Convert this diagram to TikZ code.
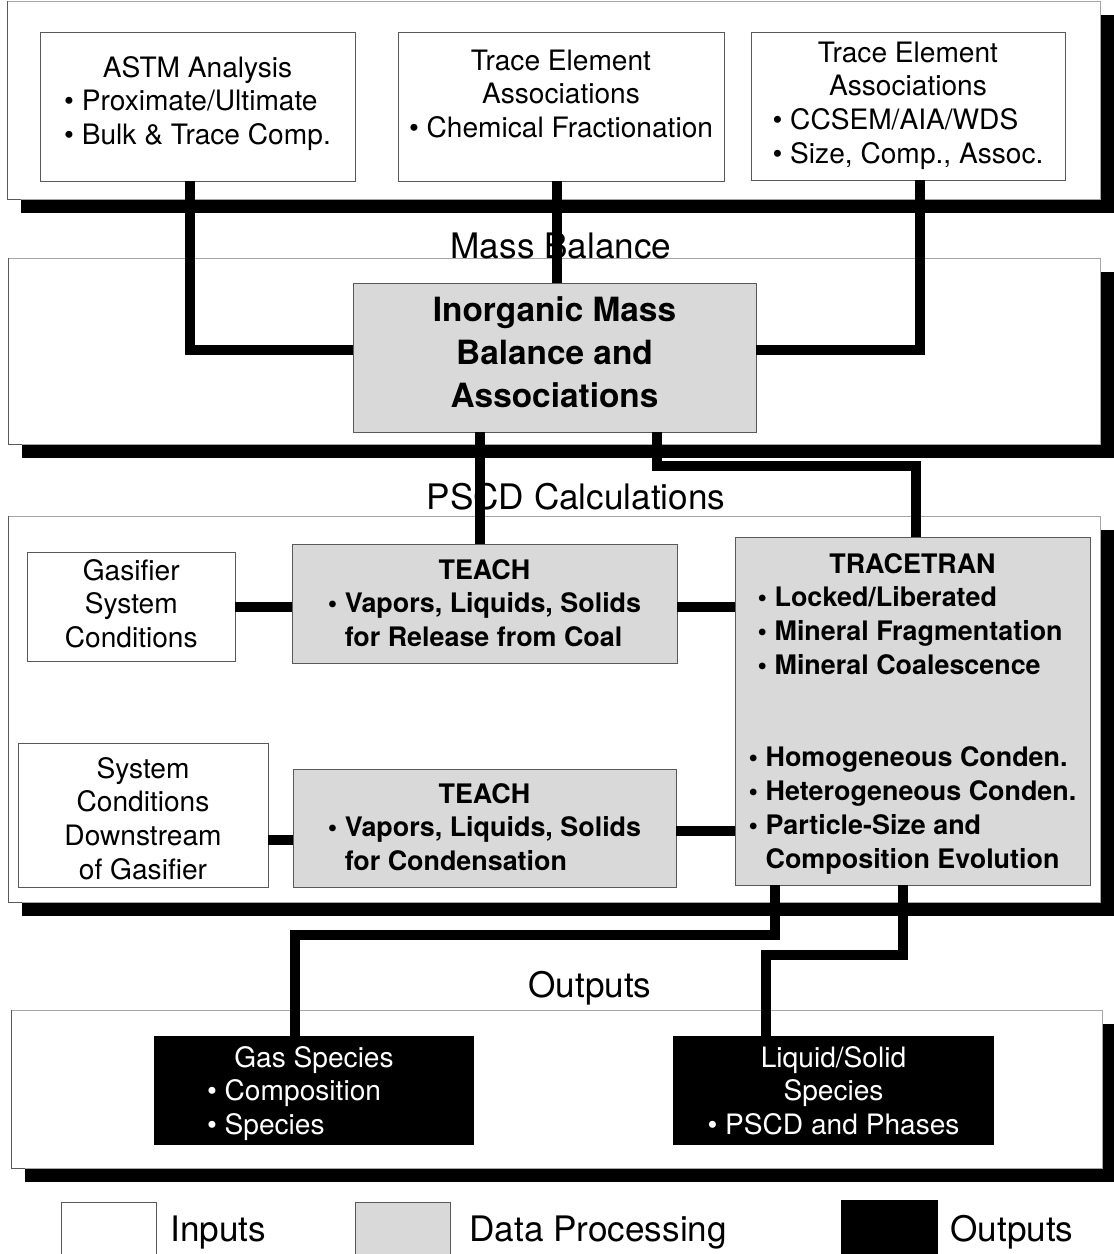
\documentclass[tikz,border=0pt]{standalone}
\usepackage{fontspec}
\setmainfont{TeX Gyre Heros}
\usepackage{tikz}
\usepackage{array}
\usetikzlibrary{calc}

\newcommand{\hd}[1]{\multicolumn{1}{@{}c@{}}{#1}}
\newcommand{\itm}{\textbullet\ }
\newcommand{\itmsp}{\phantom{\textbullet\ }}

\begin{document}
\begin{tikzpicture}[x=0.02cm, y=-0.02cm,
                thin/.style = {line width=0.5pt, draw=black!65},
                panel/.style = {line width=0.4pt, draw=black!35, fill=white},
                inbox/.style = {thin, fill=white, inner sep=0pt, font=\fontsize{16}{19.3}\selectfont},
                procbox/.style = {thin, fill=black!15, inner sep=0pt, font=\bfseries\fontsize{15.3}{19.3}\selectfont},
                outbox/.style = {fill=black, text=white, inner sep=0pt, font=\fontsize{16}{19.3}\selectfont},
                heading/.style = {anchor=base, inner sep=0pt, font=\fontsize{20}{24}\selectfont},
                legend/.style = {anchor=base west, inner sep=0pt, font=\fontsize{20}{24}\selectfont},
                link/.style = {line width=5.5pt, line cap=butt, line join=miter}]
                \useasboundingbox (0,0) rectangle (1114,1254);

                \fill (21,15) rectangle (1114,213);
                \draw[panel] (7,1) rectangle (1100,199);
                \draw[thin] (7,1) -- (7,199) -- (21,199);
                \fill (22,272) rectangle (1114,458);
                \draw[panel] (8,258) rectangle (1100,444);
                \draw[thin] (8,258) -- (8,444) -- (22,444);
                \fill (22,530) rectangle (1114,916);
                \draw[panel] (8,516) rectangle (1100,902);
                \draw[thin] (8,516) -- (8,902) -- (22,902);
                \fill (25,1024) rectangle (1116,1182);
                \draw[panel] (11,1010) rectangle (1102,1168);
                \draw[thin] (11,1010) -- (11,1168) -- (25,1168);

                \node[inbox, draw, minimum width=6.3cm, text height=0.9cm, text depth=2.08cm] (astm) at (197.5,106.5)
                    {\begin{tabular}[t]{@{}l@{}}\hd{ASTM Analysis}\\ \itm Proximate/Ultimate\\ \itm Bulk \& Trace Comp.\end{tabular}};
                \node[inbox, draw, minimum width=6.52cm, text height=0.76cm, text depth=2.22cm] (chem) at (561,106.5)
                    {\begin{tabular}[t]{@{}c@{}}Trace Element\\ Associations\\ \itm Chemical Fractionation\end{tabular}};
                \node[inbox, draw, minimum width=6.28cm, text height=0.6cm, text depth=2.36cm] (ccsem) at (908,106)
                    {\begin{tabular}[t]{@{}l@{}}\hd{Trace Element}\\ \hd{Associations}\\ \itm CCSEM/AIA/WDS\\ \itm Size, Comp., Assoc.\end{tabular}};

                \node[heading] (mass) at (561,258) {Mass Balance};
                \node[procbox, draw, minimum width=8.06cm, text height=0.76cm, text depth=2.22cm,
                    font=\bfseries\fontsize{19}{24.5}\selectfont] (inorg) at (554.5,357.5)
                    {\begin{tabular}[t]{@{}c@{}}Inorganic Mass\\ Balance and\\ Associations\end{tabular}};

                \node[heading] (pscd) at (576,509) {PSCD Calculations};
                \node[inbox, draw, minimum width=4.15cm, text height=0.56cm, text depth=1.62cm] (gasif) at (131.25,606.5)
                    {\begin{tabular}[t]{@{}c@{}}Gasifier\\ System\\ Conditions\end{tabular}};
                \node[procbox, draw, minimum width=7.7cm, text height=0.7cm, text depth=1.68cm] (teach1) at (484.5,603.5)
                    {\begin{tabular}[t]{@{}l@{}}\hd{TEACH}\\ \itm Vapors, Liquids, Solids\\ \itmsp for Release from Coal\end{tabular}};
                \node[inbox, draw, minimum width=5cm, text height=0.7cm, text depth=2.18cm] (downs) at (143,815)
                    {\begin{tabular}[t]{@{}c@{}}System\\ Conditions\\ Downstream\\ of Gasifier\end{tabular}};
                \node[procbox, draw, minimum width=7.66cm, text height=0.68cm, text depth=1.68cm] (teach2) at (484.5,828)
                    {\begin{tabular}[t]{@{}l@{}}\hd{TEACH}\\ \itm Vapors, Liquids, Solids\\ \itmsp for Condensation\end{tabular}};
                \node[procbox, draw, minimum width=7.1cm, text height=0.72cm, text depth=6.24cm] (tracetran) at (912.5,711)
                    {\begin{tabular}[t]{@{}l@{}}\hd{TRACETRAN}\\ \hspace*{0.18cm}\itm Locked/Liberated\\ \hspace*{0.18cm}\itm Mineral Fragmentation\\
                    \hspace*{0.18cm}\itm Mineral Coalescence\\[33pt] \itm Homogeneous Conden.\\ \itm Heterogeneous Conden.\\
                    \itm Particle-Size and\\ \itmsp Composition Evolution\end{tabular}};

                \node[heading] (outs) at (590,997) {Outputs};
                \node[outbox, minimum width=6.4cm, text height=0.62cm, text depth=1.56cm] (gas) at (314,1090.5)
                    {\begin{tabular}[t]{@{}l@{\hspace{0.8cm}}}\hd{Gas Species}\\ \itm Composition\\ \itm Species\end{tabular}};
                \node[outbox, minimum width=6.42cm, text height=0.62cm, text depth=1.56cm] (liq) at (833.5,1090.5)
                    {\begin{tabular}[t]{@{}l@{}}\hd{Liquid/Solid}\\ \hd{Species}\\ \itm PSCD and Phases\end{tabular}};

                \draw[link] (astm.south -| 190,0) |- (inorg.west |- 0,350);
                \draw[link] (chem.south -| 557,0) -- (inorg.north -| 557,0);
                \draw[link] (ccsem.south -| 920,0) |- (inorg.east |- 0,350);
                \draw[link] (inorg.south -| 480,0) -- (teach1.north -| 480,0);
                \draw[link] (inorg.south -| 657,0) |- (916,466) -- (tracetran.north -| 916,0);
                \draw[link] (gasif.east |- 0,607) -- (teach1.west |- 0,607);
                \draw[link] (teach1.east |- 0,607) -- (tracetran.west |- 0,607);
                \draw[link] (downs.east |- 0,840) -- (teach2.west |- 0,840);
                \draw[link] (teach2.east |- 0,831) -- (tracetran.west |- 0,831);
                \draw[link] (tracetran.south -| 775,0) |- (295,935) -- (gas.north -| 295,0);
                \draw[link] (tracetran.south -| 903,0) |- (766,955) -- (liq.north -| 766,0);

                \node[inbox, draw, minimum width=1.9cm, minimum height=1.04cm] (keyin) at (108.5,1228) {};
                \node[procbox, draw, minimum width=1.9cm, minimum height=1.04cm] (keyproc) at (402.5,1228) {};
                \node[outbox, minimum width=1.94cm, minimum height=1.08cm] (keyout) at (889.5,1227) {};
                \node[legend] (inlabel) at (170,1241) {Inputs};
                \node[legend] (proclabel) at (469,1241) {Data Processing};
                \node[legend] (outlabel) at (950,1241) {Outputs};

            \end{tikzpicture}
\end{document}
